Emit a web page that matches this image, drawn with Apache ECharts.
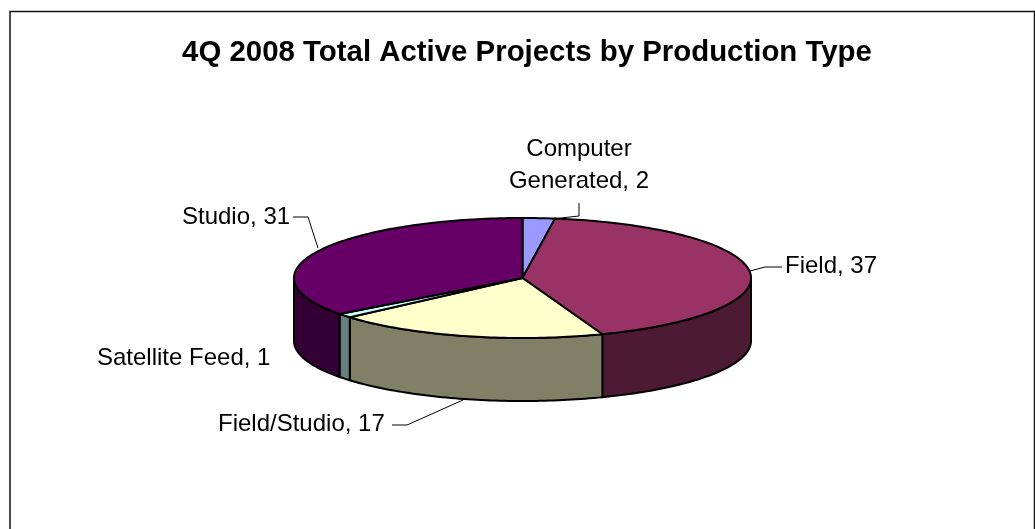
<!DOCTYPE html>
<html>
<head>
<meta charset="utf-8">
<style>
html,body{margin:0;padding:0;background:#fff;}
#chart{width:1035px;height:529px;}
</style>
<script src="https://cdn.jsdelivr.net/npm/echarts@6/dist/echarts.min.js"></script>
</head>
<body>
<div id="chart"></div>
<script>
const categories = ['Computer Generated','Field','Field/Studio','Satellite Feed','Studio'];
const values = [2,37,17,1,31];
const topColors = ['#9999FF','#993366','#FFFFCC','#CCFFFF','#660066'];
const sideColors = ['#4D4D80','#4D1A33','#808066','#668080','#330033'];
const depth = 63;

const total = values.reduce((a,b) => a + b, 0);
// [start, end] of every slice, counted clockwise from 12 o'clock
let run = 0;
const slices = values.map((v,i) => {
    const row = [run, run + v, i];
    run += v;
    return row;
});

const angle = (v) => v / total * Math.PI * 2;
// points along the rim between two angles, in axis units (-1..1)
const arcPoints = (a0,a1) => {
    const n = Math.max(2, Math.ceil((a1 - a0) / 0.02));
    const pts = [];
    for(let i = 0; i <= n; i++){
        const a = a0 + (a1 - a0) * i / n;
        pts.push([Math.sin(a), Math.cos(a)]);
    }
    return pts;
};

const renderTop = (params,api) => {
    const a0 = angle(api.value(0)), a1 = angle(api.value(1));
    const pts = [api.coord([0,0])].concat(arcPoints(a0,a1).map((p) => api.coord(p)));
    return {
        type:'polygon',
        shape:{points:pts},
        style:{fill:topColors[api.value(2)],stroke:'#000',lineWidth:2,lineJoin:'round'}
    };
};

// the wall only shows on the front half of the disc
const renderSide = (params,api) => {
    const a0 = Math.max(angle(api.value(0)), Math.PI / 2);
    const a1 = Math.min(angle(api.value(1)), Math.PI * 1.5);
    if(a1 <= a0) return null;
    const upper = arcPoints(a0,a1).map((p) => api.coord(p));
    const lower = upper.map((p) => [p[0], p[1] + depth]).reverse();
    return {
        type:'polygon',
        shape:{points:upper.concat(lower)},
        style:{fill:sideColors[api.value(2)],stroke:'#000',lineWidth:2,lineJoin:'round'}
    };
};

const labelFont = {fontFamily:'Liberation Sans',fontSize:24,fill:'#000'};
const txt = (text,x,y,align) => ({
    type:'text',
    style:Object.assign({text,x,y,align:align || 'left',verticalAlign:'middle'},labelFont),
    z:5
});
const leader = (points) => ({
    type:'polyline',
    shape:{points},
    style:{stroke:'#000',lineWidth:1,fill:null},
    z:5
});
const labelOf = (i) => categories[i] + ', ' + values[i];

const mChart = echarts.init(document.getElementById('chart'));
mChart.setOption({
    animation:false,
    title:{
        text:'4Q 2008 Total Active Projects by Production Type',
        left:522,
        top:33,
        textAlign:'center',
        textStyle:{fontFamily:'Liberation Sans',fontSize:29.4,fontWeight:'bold',color:'#000'}
    },
    grid:{left:294,top:218,width:457,height:120},
    xAxis:{type:'value',min:-1,max:1,show:false},
    yAxis:{type:'value',min:-1,max:1,show:false},
    series:[
        {type:'custom',coordinateSystem:'cartesian2d',renderItem:renderSide,data:slices,silent:true,z:2,encode:{x:0,y:1}},
        {type:'custom',coordinateSystem:'cartesian2d',renderItem:renderTop,data:slices,silent:true,z:3,encode:{x:0,y:1}}
    ],
    graphic:[
        {type:'rect',shape:{x:10,y:11.5,width:1024.5,height:540},style:{fill:null,stroke:'#111',lineWidth:1.5},z:0},
        txt('Computer',579,149,'center'),
        txt('Generated, ' + values[0],579,181,'center'),
        txt(labelOf(1),785,266),
        txt(labelOf(2),218,424),
        txt(labelOf(3),97,358),
        txt(labelOf(4),182,217),
        leader([[552,219],[579,216],[579,203]]),
        leader([[750,271],[765,267],[782,267]]),
        leader([[463,400],[407,425],[392,425]]),
        leader([[318,248],[308,217],[293,217]])
    ]
});
</script>
</body>
</html>
